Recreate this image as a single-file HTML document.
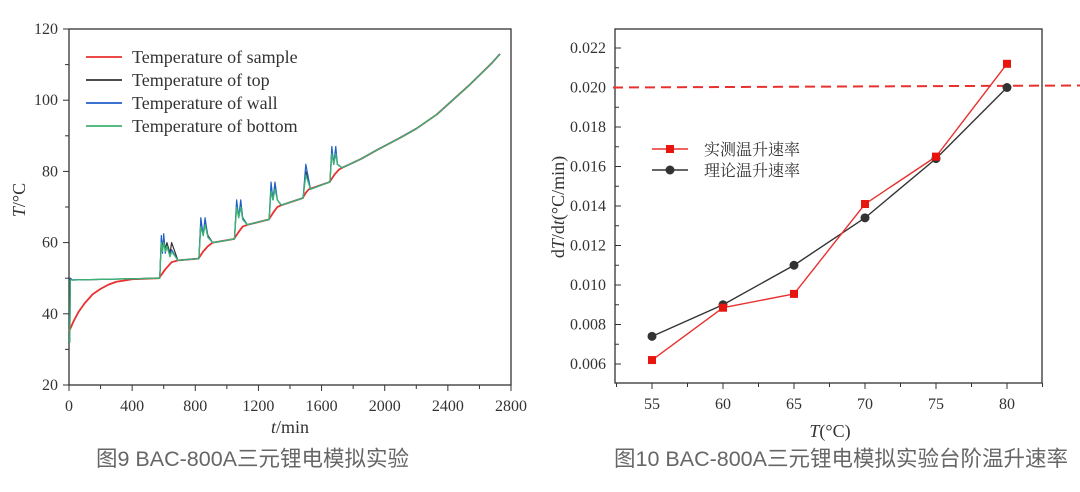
<!DOCTYPE html>
<html><head><meta charset="utf-8"><style>
body{margin:0;background:#fff;width:1080px;height:487px;overflow:hidden}
svg text{font-family:"Liberation Serif","Noto Serif CJK SC",serif;fill:#333}
.cap{font-family:"Liberation Sans","Noto Sans CJK SC",sans-serif;fill:#666;font-size:21.5px}
</style></head><body>
<svg id="s" width="1080" height="487" xmlns="http://www.w3.org/2000/svg">
<g id="L"></g>
<g id="R"></g>
<text class="cap" x="96" y="466">图9 BAC-800A三元锂电模拟实验</text>
<text class="cap" x="614" y="466">图10 BAC-800A三元锂电模拟实验台阶温升速率</text>
</svg>
<script>
// ---- left chart data ----
const sampleT=[0,30,60,100,150,200,250,300,400,570,610,650,690,820,850,880,910,1045,1075,1100,1130,1265,1295,1320,1345,1480,1500,1520,1650,1680,1710,1730,1850,1950,2100,2200,2330,2430,2530,2600,2680,2730];
const sampleV=[35,38,40.5,43,45.5,47,48.2,49,49.7,50,52.5,54.5,55,55.5,57.5,59,60,61,63,64.5,65,66.5,68.5,70,70.5,72.5,74,75,77,79,80.5,81,83.5,86,89.5,92,96,100,104,107,110.5,113];
const topT=[0,5,8,20,570,575,585,592,600,610,620,640,650,690,820,823,835,850,862,880,910,1045,1048,1062,1075,1088,1100,1130,1265,1268,1280,1292,1305,1320,1345,1480,1483,1500,1530,1650,1653,1665,1677,1690,1700,1730,1850,1950,2100,2200,2330,2430,2530,2600,2680,2730];
const topV=[32,32,50,49.5,50,50,61,58,61,58,60,57,60,55,55.5,55.5,65.5,62,66,62,60,61,61,71,67,71,67,65,66.5,66.5,75.5,72,76,72,70.5,72.5,72.5,80,75,77,77,86,82,86,82,81,83.5,86,89.5,92,96,100,104,107,110.5,113];
const wallV=[32,32,50,49.5,50,50,62,57,62.5,57,59,56.5,58,55,55.5,55.5,67,62,67,61.5,60,61,61,72,67,72,67,65,66.5,66.5,77,72,77,72,70.5,72.5,72.5,82,75,77,77,87,82,87,82,81,83.5,86,89.5,92,96,100,104,107,110.5,113];
const botV=[32,32,49.5,49.5,50,50,60,57.5,60,57.5,59,56,57.5,55,55.5,55.5,64.5,62,65,61.5,60,61,61,70,67,70,66.5,65,66.5,66.5,74.5,72,75,72,70.5,72.5,72.5,79,75,77,77,85,82,85,82,81,83.5,86,89.5,92,96,100,104,107,110.5,113];
const xTicksL=[0,400,800,1200,1600,2000,2400,2800];
const yTicksL=[20,40,60,80,100,120];
// ---- right chart data ----
const tempCats=[55,60,65,70,75,80];
const measured=[0.0062,0.00885,0.00955,0.0141,0.0165,0.0212];
const theory=[0.0074,0.009,0.011,0.0134,0.0164,0.0200];
const yTicksR=[0.006,0.008,0.010,0.012,0.014,0.016,0.018,0.020,0.022];
const refLine=0.020;

const NS="http://www.w3.org/2000/svg";
function mk(p,t,a){const e=document.createElementNS(NS,t);for(const k in a)e.setAttribute(k,a[k]);p.appendChild(e);return e;}
const L=document.getElementById('L');
const lx=v=>69+v/2800*442, ly=v=>385-(v-20)/100*356;
mk(L,'rect',{x:69,y:29,width:442,height:356,fill:'none',stroke:'#333','stroke-width':1.3});
xTicksL.forEach((v,i)=>{const x=lx(v);mk(L,'line',{x1:x,x2:x,y1:385,y2:391,stroke:'#333'});
 if(i<xTicksL.length-1){mk(L,'line',{x1:lx(v+200),x2:lx(v+200),y1:385,y2:389,stroke:'#333'});}
 const t=mk(L,'text',{x:x,y:411,'text-anchor':'middle','font-size':16});t.textContent=v;
 });
yTicksL.forEach((v,i)=>{const y=ly(v);mk(L,'line',{x1:63,x2:69,y1:y,y2:y,stroke:'#333'});
 if(i<yTicksL.length-1)mk(L,'line',{x1:65,x2:69,y1:ly(v+10),y2:ly(v+10),stroke:'#333'});
 const t=mk(L,'text',{x:58,y:y+5,'text-anchor':'end','font-size':16});t.textContent=v;
 });
let t=mk(L,'text',{x:290,y:433,'text-anchor':'middle','font-size':18});t.innerHTML='<tspan font-style="italic">t</tspan>/min';

t=mk(L,'text',{transform:'translate(25,200) rotate(-90)','text-anchor':'middle','font-size':18});t.innerHTML='<tspan font-style="italic">T</tspan>/°C';

function poly(g,xs,ys,fx,fy,c,w,name){const e=mk(g,'polyline',{points:xs.map((x,i)=>fx(x)+','+fy(ys[i])).join(' '),fill:'none',stroke:c,'stroke-width':w,'stroke-linejoin':'round'});
 return e;}
poly(L,sampleT,sampleV,lx,ly,'#e8312f',1.8,'series-sample');
poly(L,topT,topV,lx,ly,'#333',1.2,'series-top');
poly(L,topT,wallV,lx,ly,'#1f5fc8',1.2,'series-wall');
poly(L,topT,botV,lx,ly,'#3cb371',1.3,'series-bottom');
[['Temperature of sample','#e8312f'],['Temperature of top','#333'],['Temperature of wall','#1f5fc8'],['Temperature of bottom','#3cb371']].forEach((d,i)=>{
 const y=57+i*23;mk(L,'line',{x1:86,x2:122,y1:y,y2:y,stroke:d[1],'stroke-width':1.8});
 const tt=mk(L,'text',{x:132,y:y+6,'font-size':18});tt.textContent=d[0];
 });
const R=document.getElementById('R');
const rx=v=>652+(v-55)/5*71, ry=v=>364-(v-0.006)/0.016*316;
mk(R,'rect',{x:615,y:29,width:427,height:354,fill:'none',stroke:'#333','stroke-width':1.3});
tempCats.forEach(v=>{const x=rx(v);mk(R,'line',{x1:x,x2:x,y1:383,y2:389,stroke:'#333'});
 mk(R,'line',{x1:rx(v+2.5),x2:rx(v+2.5),y1:383,y2:387,stroke:'#333'});
 const tt=mk(R,'text',{x:x,y:409,'text-anchor':'middle','font-size':16});tt.textContent=v;
 });
mk(R,'line',{x1:rx(52.5),x2:rx(52.5),y1:383,y2:387,stroke:'#333'});
yTicksR.forEach(v=>{const y=ry(v);mk(R,'line',{x1:615,x2:621,y1:y,y2:y,stroke:'#333'});
 if(v<0.022)mk(R,'line',{x1:615,x2:619,y1:ry(v+0.001),y2:ry(v+0.001),stroke:'#333'});
 const tt=mk(R,'text',{x:606,y:y+5,'text-anchor':'end','font-size':16});tt.textContent=v.toFixed(3);
 });
t=mk(R,'text',{x:830,y:437,'text-anchor':'middle','font-size':18});t.innerHTML='<tspan font-style="italic">T</tspan>(°C)';

t=mk(R,'text',{transform:'translate(564,207) rotate(-90)','text-anchor':'middle','font-size':18});t.innerHTML='d<tspan font-style="italic">T</tspan>/d<tspan font-style="italic">t</tspan>(°C/min)';

let dl=mk(R,'line',{x1:613,x2:1080,y1:ry(refLine),y2:ry(refLine)-2,stroke:'#e8312f','stroke-width':2,'stroke-dasharray':'10,6'});

poly(R,tempCats,theory,rx,ry,'#333',1.4,'series-theory');
poly(R,tempCats,measured,rx,ry,'#e8312f',1.4,'series-measured');
tempCats.forEach((c,i)=>{let m=mk(R,'circle',{cx:rx(c),cy:ry(theory[i]),r:4.5,fill:'#333'});
 
 m=mk(R,'rect',{x:rx(c)-4,y:ry(measured[i])-4,width:8,height:8,fill:'#e8150f'});
 });
[['实测温升速率','#e8312f',0],['理论温升速率','#333',1]].forEach((d,i)=>{const y=149+i*21;
 mk(R,'line',{x1:652,x2:688,y1:y,y2:y,stroke:d[1],'stroke-width':1.6});
 if(d[2]==0)mk(R,'rect',{x:666,y:y-4,width:8,height:8,fill:'#e8150f'});else mk(R,'circle',{cx:670,cy:y,r:4.5,fill:'#333'});
 const tt=mk(R,'text',{x:704,y:y+6,'font-size':16});tt.textContent=d[0];
 });
</script>
</body></html>
